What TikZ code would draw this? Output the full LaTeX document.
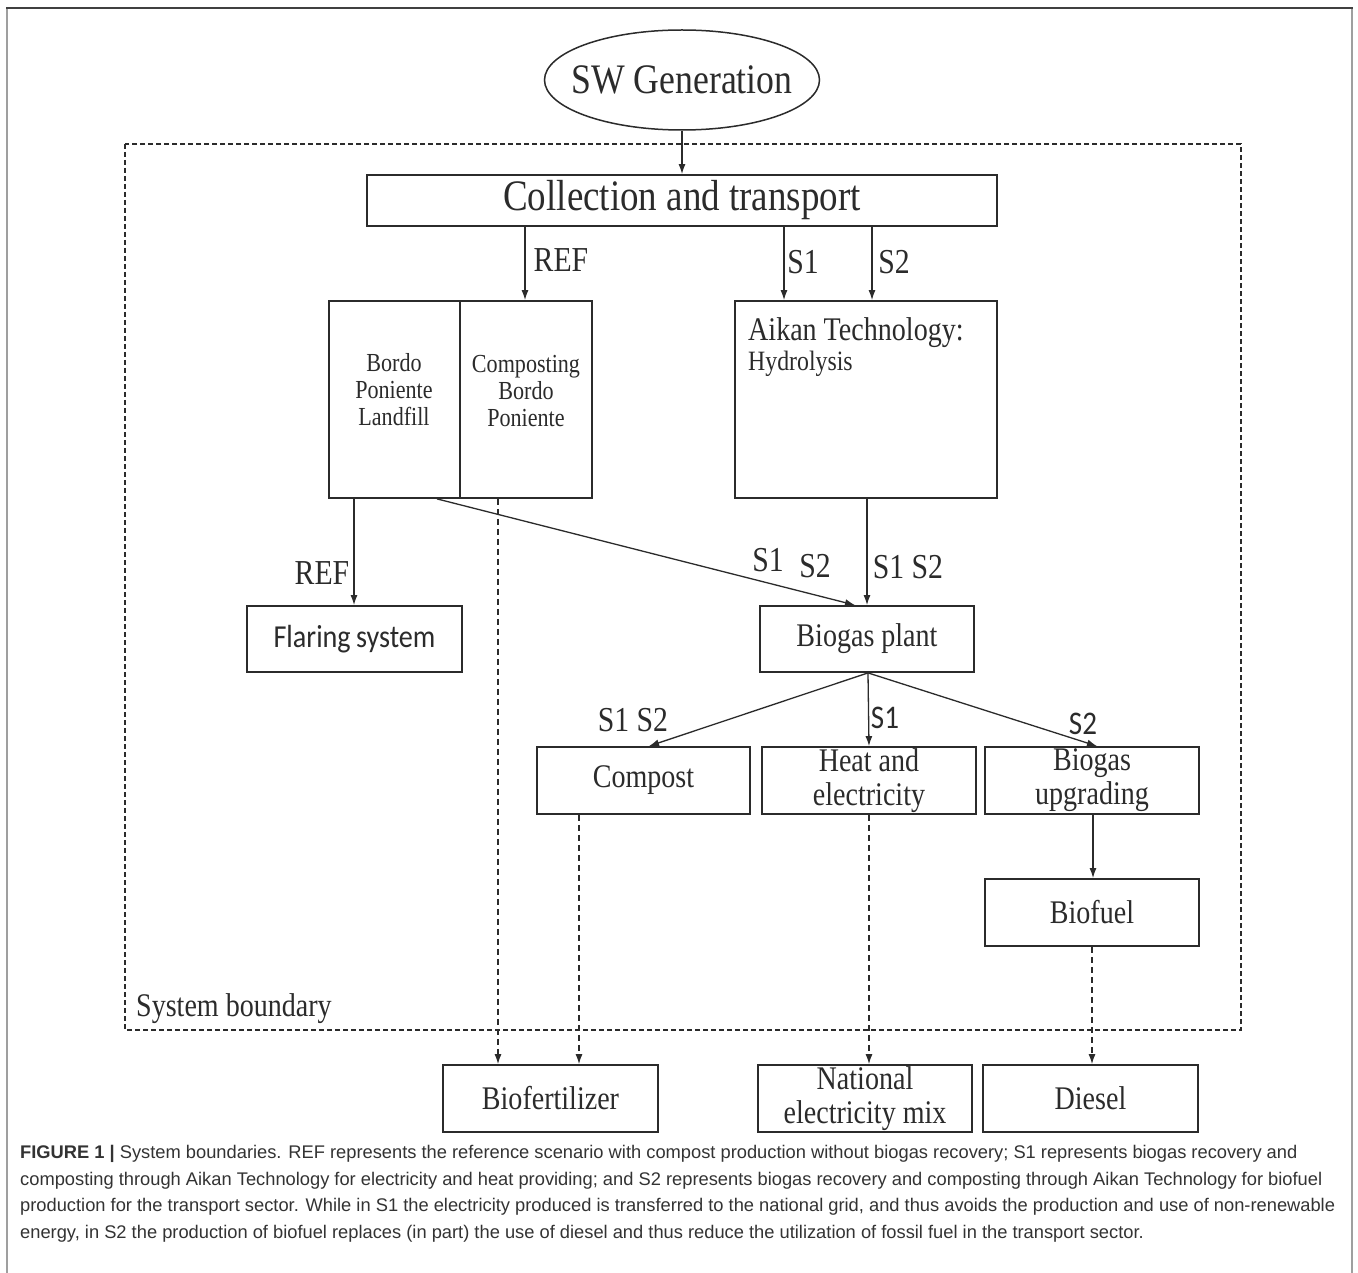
\documentclass[tikz,border=0pt]{standalone}
\usepackage{fontspec}
\setmainfont[FakeStretch=0.85]{Liberation Serif}
\newfontfamily\capfont{Liberation Sans}
\newfontfamily\calib[FakeStretch=0.88]{Carlito}
\usetikzlibrary{shapes.geometric,arrows.meta}
\definecolor{ln}{HTML}{2B2B2B}
\definecolor{cap}{HTML}{333333}
\tikzset{
  box/.style={draw=ln, line width=1.8pt, rectangle, inner sep=0pt},
  arr/.style={draw=ln, line width=1.3pt, -{Latex[length=10pt,width=7pt]}},
  darr/.style={draw=ln, line width=1.2pt, dash pattern=on 6pt off 4pt, -{Latex[length=10pt,width=7pt]}},
  lbl/.style={font=\fontsize{35}{38}\selectfont, inner sep=0pt, text=ln},
  slbl/.style={font=\calib\fontsize{33}{36}\selectfont, inner sep=0pt, text=ln},
  btxt/.style={font=\fontsize{33}{34}\selectfont, align=center, text=ln},
  captxt/.style={font=\capfont\fontsize{18.3}{26}\selectfont, anchor=base west, inner sep=0pt, text=cap},
}
\begin{document}
\begin{tikzpicture}[x=1pt,y=-1pt]
\useasboundingbox (0,0) rectangle (1358,1273);
\fill[white] (0,0) rectangle (1358,1273);
% outer frame
\draw[gray!75, line width=1.5pt] (7,1273) -- (7,8);
\draw[gray!75, line width=1.5pt] (1352,8) -- (1352,1273);
\draw[black!75, line width=1.5pt] (6,8) -- (1353,8);

% system boundary
\draw[ln, line width=1.4pt, dash pattern=on 5pt off 3pt] (125,144) rectangle (1241,1030);
\node[anchor=south west, inner sep=0pt, font=\fontsize{33}{36}\selectfont, text=ln] (sb) at (136,1024) {System boundary};

% nodes
\node[draw=ln, line width=1.5pt, ellipse, minimum width=275pt, minimum height=100pt, inner sep=0pt, font=\fontsize{42}{44}\selectfont, text=ln] (sw) at (682,80) {\makebox[0pt]{SW Generation}};
\node[box, minimum width=630pt, minimum height=51pt, font=\fontsize{43.5}{45}\selectfont, text=ln] (coll) at (682,200.5) {Collection and transport};

\node[box, minimum width=131pt, minimum height=197pt] (land) at (394.5,399.5) {};
\node[box, minimum width=132pt, minimum height=197pt] (comp) at (526,399.5) {};
\node[font=\fontsize{26}{27}\selectfont, align=center, text=ln, inner sep=0pt] (landt) at (394,390) {Bordo\\Poniente\\Landfill};
\node[font=\fontsize{26}{27}\selectfont, align=center, text=ln, inner sep=0pt] (compt) at (526,391) {Composting\\Bordo\\Poniente};

\node[box, minimum width=262pt, minimum height=197pt] (aikan) at (866,399.5) {};
\node[anchor=west, inner sep=0pt, font=\fontsize{33}{36}\selectfont, text=ln] (aikt) at (748,333) {Aikan Technology:};
\node[anchor=west, inner sep=0pt, font=\fontsize{28}{30}\selectfont, text=ln] (hyd) at (748,364) {Hydrolysis};

\node[box, minimum width=215pt, minimum height=66pt, font=\calib\fontsize{32}{34}\selectfont, text=ln] (flare) at (354.5,639) {Flaring\,system};
\node[box, minimum width=214pt, minimum height=66pt, btxt] (bio) at (867,639) {Biogas plant};

\node[box, minimum width=213pt, minimum height=67pt, btxt] (cpst) at (643.5,780.5) {Compost};
\node[box, minimum width=214pt, minimum height=67pt, btxt] (heat) at (869,780.5) {Heat and\\electricity};
\node[box, minimum width=214pt, minimum height=67pt, btxt] (upg) at (1092,780.5) {Biogas\\upgrading};
\node[box, minimum width=214pt, minimum height=67pt, btxt] (fuel) at (1092,912.5) {Biofuel};

\node[box, minimum width=215pt, minimum height=67pt, btxt] (fert) at (550.5,1098.5) {Biofertilizer};
\node[box, minimum width=214pt, minimum height=67pt, btxt] (nat) at (865,1098.5) {National\\electricity mix};
\node[box, minimum width=215pt, minimum height=67pt, btxt] (dies) at (1090.5,1098.5) {Diesel};

% helper x positions
\coordinate (xref) at (525,0);
\coordinate (xs1) at (784,0);
\coordinate (xs2) at (872,0);
\coordinate (xd1) at (437,0);
\coordinate (xd2) at (855,0);
\coordinate (xfl) at (354,0);
\coordinate (xcp) at (649,0);
\coordinate (xht) at (869,0);
\coordinate (xup) at (1097,0);
\coordinate (xbf) at (1093,0);
\coordinate (xv1) at (498,0);
\coordinate (xv2) at (579,0);
\coordinate (xv3) at (869,0);
\coordinate (xv4) at (1092,0);
\coordinate (apex) at (868,672);

% connectors
\draw[arr] (sw.south) -- (coll.north);
\draw[arr] (coll.south -| xref) -- (comp.north -| xref);
\draw[arr] (coll.south -| xs1) -- (aikan.north -| xs1);
\draw[arr] (coll.south -| xs2) -- (aikan.north -| xs2);
\draw[arr] (land.south -| xfl) -- (flare.north -| xfl);
\draw[arr] (land.south -| xd1) -- (bio.north -| xd2);
\draw[arr] (aikan.south -| bio.north) -- (bio.north);
\draw[arr] (bio.south -| apex) -- (cpst.north -| xcp);
\draw[arr] (bio.south -| apex) -- (heat.north -| xht);
\draw[arr] (bio.south -| apex) -- (upg.north -| xup);
\draw[arr] (upg.south -| xbf) -- (fuel.north -| xbf);
\draw[darr] (comp.south -| xv1) -- (fert.north -| xv1);
\draw[darr] (cpst.south -| xv2) -- (fert.north -| xv2);
\draw[darr] (heat.south -| xv3) -- (nat.north -| xv3);
\draw[darr] (fuel.south -| xv4) -- (dies.north -| xv4);

% labels
\node[lbl] (l1) at (561,260) {REF};
\node[lbl] (l2) at (803,262) {S1};
\node[lbl] (l3) at (894,262) {S2};
\node[lbl] (l4) at (322,573) {REF};
\node[lbl] (l5) at (768,560) {S1};
\node[lbl] (l6) at (815,566) {S2};
\node[lbl] (l7) at (908,567) {S1 S2};
\node[lbl] (l8) at (633,720) {S1 S2};
\node[slbl] (l9) at (885,718) {S1};
\node[slbl] (l10) at (1083,724) {S2};

% caption
\node[captxt] (c1) at (20,1158) {\textbf{FIGURE 1 |} System boundaries. REF represents the reference scenario with compost production without biogas recovery; S1 represents biogas recovery and};
\node[captxt] (c2) at (20,1185) {composting through Aikan Technology for electricity and heat providing; and S2 represents biogas recovery and composting through Aikan Technology for biofuel};
\node[captxt] (c3) at (20,1211) {production for the transport sector. While in S1 the electricity produced is transferred to the national grid, and thus avoids the production and use of non-renewable};
\node[captxt] (c4) at (20,1238) {energy, in S2 the production of biofuel replaces (in part) the use of diesel and thus reduce the utilization of fossil fuel in the transport sector.};
\end{tikzpicture}
\end{document}
